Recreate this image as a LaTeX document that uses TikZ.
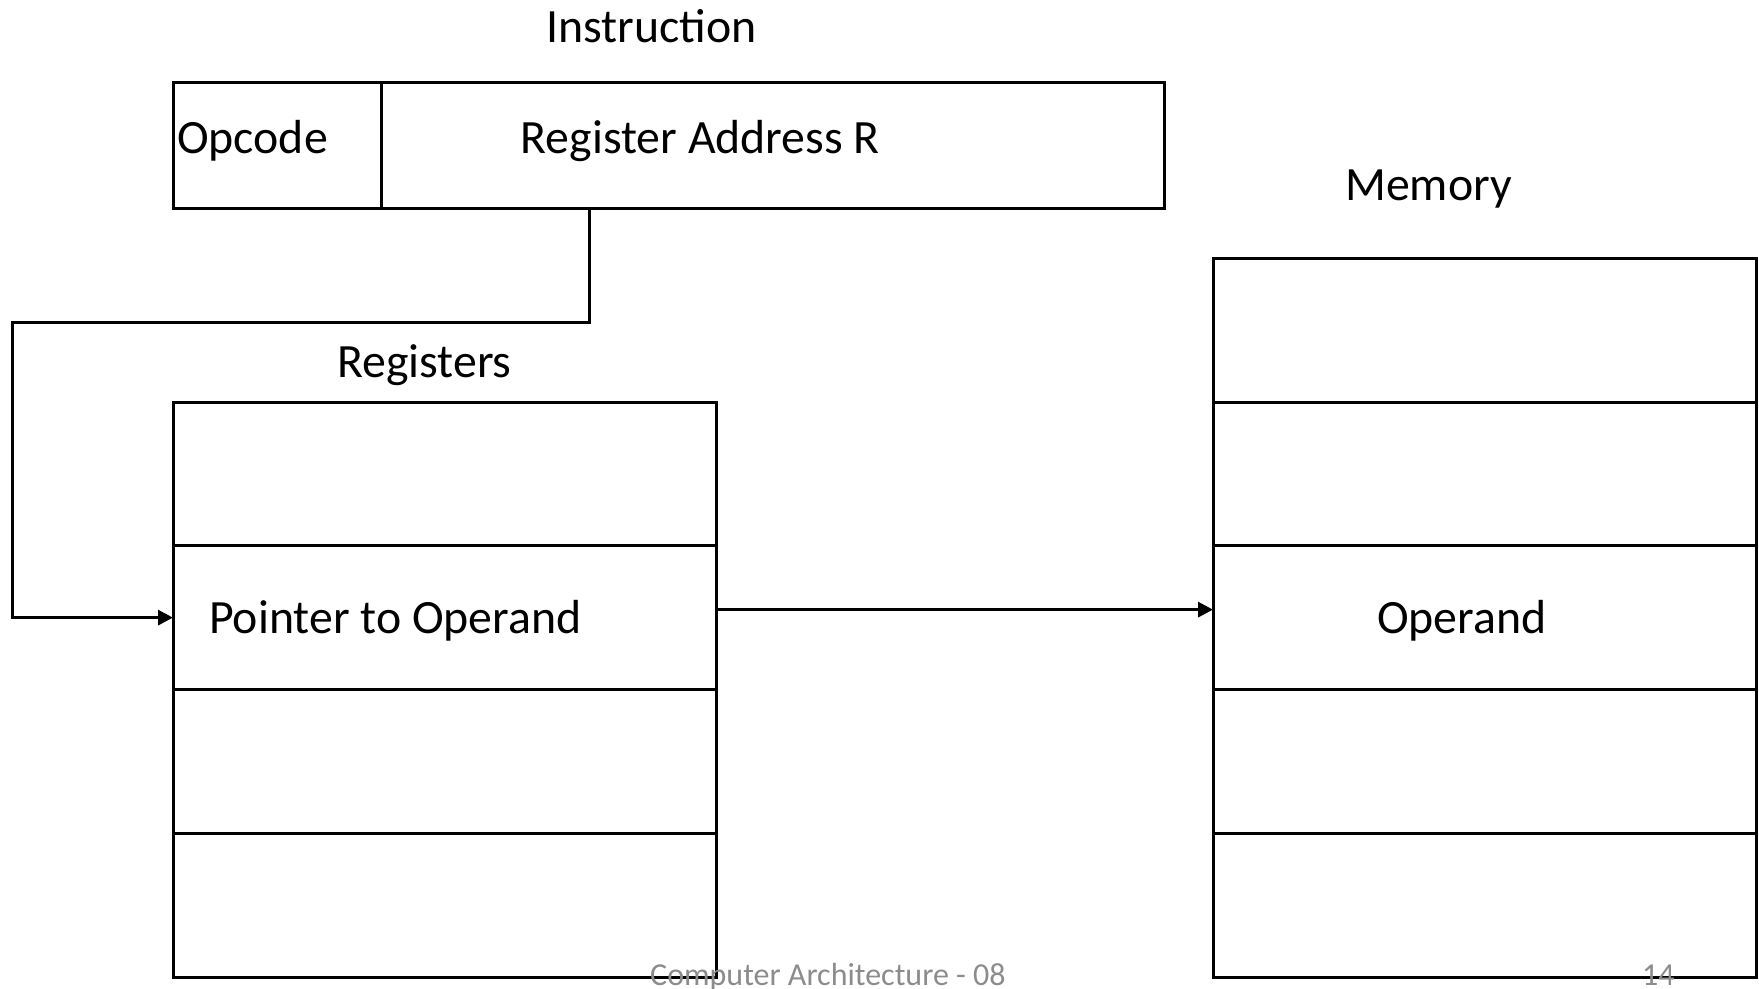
\documentclass[tikz,border=0pt]{standalone}
\usepackage{fontspec}
\setmainfont{Carlito}
\usetikzlibrary{arrows.meta}
\definecolor{footgray}{HTML}{8C8C8C}
\begin{document}
\begin{tikzpicture}[x=1pt,y=-1pt,
  field/.style={draw,line width=3pt,rectangle,inner sep=0pt,outer sep=0pt,anchor=north west},
  cell/.style={field,minimum width=543pt,minimum height=143.75pt},
  lbl/.style={inner sep=0pt,anchor=base west,font=\fontsize{47.8}{57}\selectfont},
  foot/.style={inner sep=0pt,anchor=base west,text=footgray,font=\fontsize{32}{38}\selectfont},
  link/.style={line width=3pt,-{Triangle[length=15pt,width=15pt]}}]
\useasboundingbox (0,0) rectangle (1759,988);

% instruction word
\node[field,minimum width=208pt,minimum height=126.5pt] (opc) at (173,82) {};
\node[field,minimum width=783.5pt,minimum height=126.5pt] (addr) at (381,82) {};
\node[lbl] (tInstr) at (546,42) {Instruction};
\node[lbl] (tOpc) at (177,153) {Opcode};
\node[lbl] (tAddr) at (520.5,153) {Register Address R};

% register file
\node[lbl] (tRegs) at (337,377) {Registers};
\node[cell] (reg1) at (173,402) {};
\node[cell] (reg2) at (173,545.75) {};
\node[cell] (reg3) at (173,689.5) {};
\node[cell] (reg4) at (173,833.25) {};
\node[lbl] (tPtr) at (209,633) {Pointer to Operand};

% memory
\node[lbl] (tMem) at (1345,200) {Memory};
\node[cell] (mem1) at (1213,258.25) {};
\node[cell] (mem2) at (1213,402) {};
\node[cell] (mem3) at (1213,545.75) {};
\node[cell] (mem4) at (1213,689.5) {};
\node[cell] (mem5) at (1213,833.25) {};
\node[lbl] (tOpd) at (1377,633) {Operand};

% connectors
\coordinate (bendA) at (589,322);
\coordinate (bendB) at (12,322);
\draw[link] (bendA |- addr.south) -- (bendA) -- (bendB) |- (reg2.west);
\draw[link] ([yshift=8pt]reg2.east) -- ([yshift=8pt]mem3.west);

% footer
\node[foot] (fTitle) at (650,985) {Computer Architecture - 08};
\node[foot] (fPage) at (1642,985) {14};
\end{tikzpicture}
\end{document}
